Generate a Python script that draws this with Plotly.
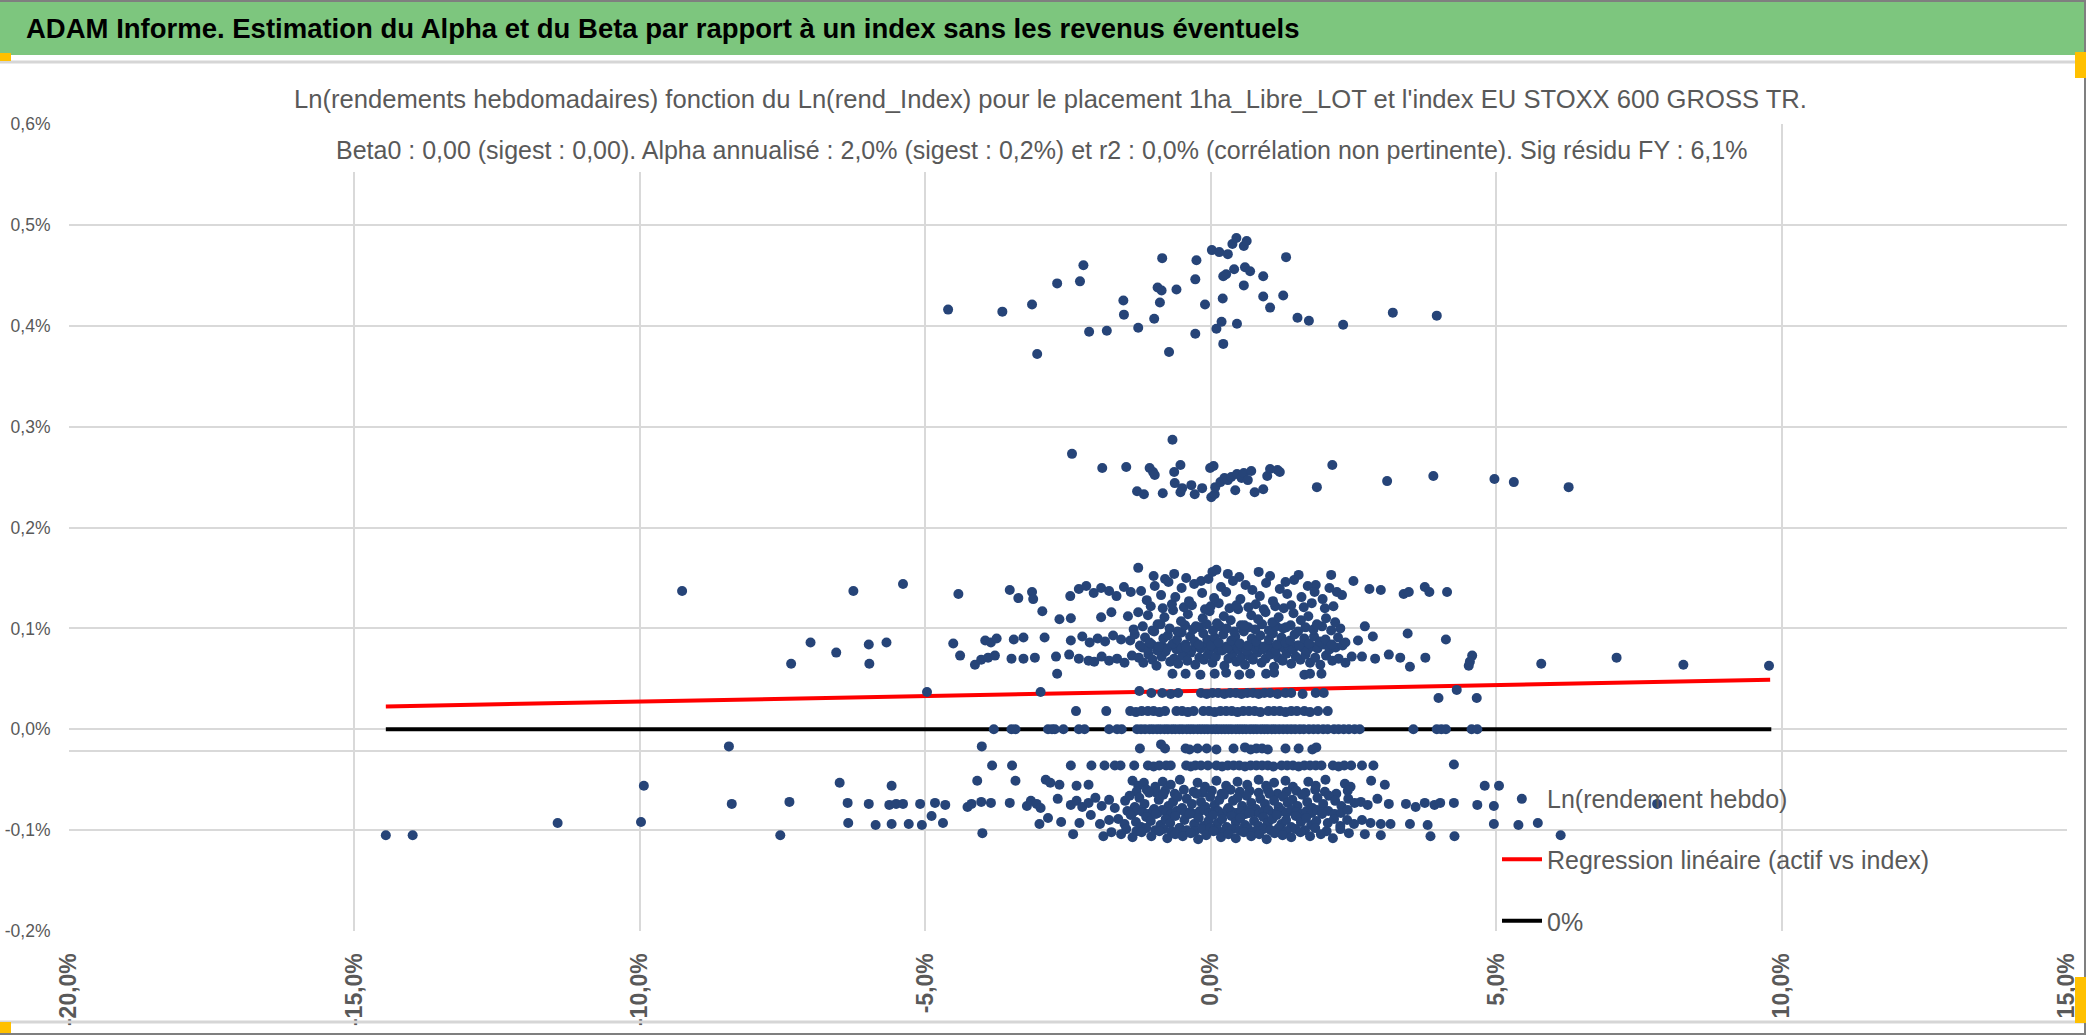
import plotly.graph_objects as go

# Ln(rendement hebdo) de l'actif (y, en %) vs Ln(rendement hebdo) de l'index (x, en %)
# bande haute 0,37% - 0,49%
pts_top = [(-4.60, 0.416), (-3.65, 0.414), (-3.13, 0.421), (-3.04, 0.372), (-2.69, 0.442), (-2.23, 0.460),
           (-2.29, 0.444), (-2.13, 0.394), (-1.82, 0.395), (-1.53, 0.425), (-1.52, 0.411), (-1.27, 0.398),
           (-0.99, 0.407), (-0.93, 0.438), (-0.86, 0.435), (-0.89, 0.423), (-0.85, 0.467), (-0.73, 0.374),
           (-0.60, 0.436), (-0.27, 0.446), (-0.25, 0.465), (-0.27, 0.392), (-0.10, 0.421), (0.02, 0.475),
           (0.10, 0.397), (0.15, 0.473), (0.19, 0.404), (0.21, 0.427), (0.22, 0.382), (0.22, 0.449),
           (0.27, 0.451), (0.30, 0.471), (0.41, 0.456), (0.38, 0.481), (0.45, 0.487), (0.46, 0.402),
           (0.58, 0.440), (0.60, 0.458), (0.58, 0.479), (0.63, 0.484), (0.69, 0.454), (0.92, 0.449),
           (0.92, 0.429), (1.04, 0.418), (1.27, 0.430), (1.32, 0.468), (1.52, 0.408), (1.72, 0.405),
           (2.32, 0.401), (3.19, 0.413), (3.96, 0.410)]

# bande 0,23% - 0,29%
pts_mid = [(-2.43, 0.273), (-1.90, 0.259), (-1.48, 0.260), (-1.07, 0.259), (-1.01, 0.255), (-0.98, 0.252),
           (-0.67, 0.287), (-0.64, 0.255), (-0.53, 0.262), (-0.63, 0.244), (-1.29, 0.236), (-1.17, 0.233),
           (-0.84, 0.234), (-0.53, 0.235), (-0.50, 0.239), (-0.34, 0.242), (-0.28, 0.233), (-0.15, 0.239),
           (-0.01, 0.259), (0.05, 0.261), (0.01, 0.230), (0.07, 0.233), (0.08, 0.240), (0.17, 0.245),
           (0.24, 0.249), (0.30, 0.247), (0.36, 0.250), (0.43, 0.237), (0.46, 0.253), (0.54, 0.249),
           (0.58, 0.254), (0.65, 0.247), (0.71, 0.256), (0.77, 0.235), (0.92, 0.238), (0.99, 0.251),
           (1.04, 0.258), (1.17, 0.257), (1.21, 0.255), (1.86, 0.240), (2.13, 0.262), (3.09, 0.246),
           (3.90, 0.251), (4.97, 0.248), (5.31, 0.245), (6.27, 0.240)]

# bande 0,06% - 0,16% (coeur)
row07_x = [-1.26, -1.18, -1.09, -1.02, -0.95, -0.86, -0.79, -0.71, -0.64, -0.57, -0.49, -0.41, -0.35, -0.27, -0.20, -0.12,
           -0.05, 0.03, 0.09, 0.16, 0.24, 0.31, 0.38, 0.45, 0.53, 0.60, 0.67, 0.74, 0.82, 0.89, 0.96, 1.04,
           1.11, 1.18, 1.26, 1.33, 1.41, 1.49, 1.57, 1.66, 1.74, 1.83, 1.92, 2.02, 2.13, 2.24, 2.36, 2.47]
row07_y = [0.071, 0.066, 0.074, 0.069, 0.063, 0.072, 0.077, 0.067, 0.070, 0.065, 0.073, 0.068, 0.076, 0.064, 0.071, 0.069,
           0.074, 0.066, 0.072, 0.078, 0.063, 0.070, 0.075, 0.067, 0.071, 0.064, 0.073, 0.069, 0.076, 0.066, 0.070, 0.074,
           0.062, 0.071, 0.068, 0.075, 0.065, 0.072, 0.069, 0.074, 0.066, 0.071, 0.064, 0.073, 0.068, 0.070, 0.066, 0.072]
row08_x = [-1.20, -1.11, -1.03, -0.94, -0.85, -0.77, -0.68, -0.60, -0.52, -0.44, -0.34, -0.26, -0.18, -0.09, -0.02,
           0.06, 0.13, 0.20, 0.28, 0.35, 0.42, 0.49, 0.56, 0.63, 0.70, 0.78, 0.85, 0.92, 0.99, 1.07,
           1.14, 1.21, 1.29, 1.36, 1.44, 1.52, 1.61, 1.69, 1.78, 1.87, 1.97, 2.08, 2.19, 2.31]
row08_y = [0.081, 0.079, 0.084, 0.078, 0.082, 0.080, 0.083, 0.079, 0.081, 0.084, 0.078, 0.082, 0.080, 0.083, 0.079,
           0.081, 0.084, 0.078, 0.082, 0.080, 0.083, 0.079, 0.081, 0.078, 0.084, 0.080, 0.082, 0.079, 0.083, 0.081,
           0.078, 0.084, 0.080, 0.082, 0.079, 0.083, 0.081, 0.078, 0.082, 0.080, 0.084, 0.079, 0.081, 0.083]
row09_x = [-1.41, -1.33, -1.24, -1.15, -1.07, -0.99, -0.91, -0.83, -0.75, -0.66, -0.59, -0.51, -0.43, -0.36, -0.28, -0.21,
           -0.13, -0.06, 0.01, 0.07, 0.14, 0.22, 0.29, 0.36, 0.43, 0.51, 0.58, 0.65, 0.72, 0.80, 0.87, 0.94,
           1.02, 1.09, 1.16, 1.24, 1.31, 1.39, 1.47, 1.55, 1.64, 1.72, 1.81, 1.91, 2.01, 2.12, 2.23, 2.36]
row09_y = [0.088, 0.094, 0.083, 0.091, 0.086, 0.097, 0.082, 0.090, 0.093, 0.085, 0.089, 0.096, 0.081, 0.092, 0.087, 0.084,
           0.095, 0.089, 0.083, 0.091, 0.086, 0.094, 0.080, 0.088, 0.092, 0.085, 0.097, 0.083, 0.090, 0.087, 0.093, 0.082,
           0.089, 0.095, 0.084, 0.091, 0.086, 0.088, 0.094, 0.083, 0.090, 0.085, 0.092, 0.087, 0.089, 0.084, 0.091, 0.086]
row10_x = [-1.35, -1.19, -1.02, -0.88, -0.72, -0.58, -0.45, -0.31, -0.19, -0.07, 0.04, 0.16, 0.28, 0.41,
           0.53, 0.66, 0.78, 0.90, 1.02, 1.15, 1.27, 1.40, 1.53, 1.66, 1.80, 1.95, 2.11, 2.27]
row10_y = [0.099, 0.102, 0.098, 0.104, 0.100, 0.097, 0.103, 0.099, 0.101, 0.104, 0.098, 0.102, 0.100, 0.097,
           0.103, 0.101, 0.099, 0.104, 0.098, 0.102, 0.100, 0.103, 0.097, 0.101, 0.099, 0.102, 0.098, 0.100]
row11_x = [-1.27, -1.10, -0.93, -0.81, -0.66, -0.52, -0.40, -0.26, -0.14, -0.02, 0.11, 0.23, 0.35, 0.48,
           0.59, 0.71, 0.83, 0.96, 1.08, 1.19, 1.32, 1.45, 1.58, 1.71, 1.86, 2.02, 2.18]
row11_y = [0.116, 0.113, 0.104, 0.111, 0.118, 0.107, 0.114, 0.102, 0.110, 0.117, 0.105, 0.112, 0.108, 0.119,
           0.103, 0.113, 0.109, 0.116, 0.106, 0.111, 0.101, 0.115, 0.108, 0.112, 0.104, 0.110, 0.106]
row12_x = [-1.05, -0.84, -0.68, -0.47, -0.33, -0.10, 0.00, 0.14, 0.33, 0.45,
           0.66, 0.79, 0.93, 1.13, 1.28, 1.41, 1.63, 1.77, 2.00, 2.15]
row12_y = [0.122, 0.120, 0.124, 0.121, 0.123, 0.119, 0.122, 0.125, 0.120, 0.123,
           0.121, 0.124, 0.119, 0.122, 0.120, 0.123, 0.121, 0.125, 0.120, 0.122]
row13_x = [-1.22, -1.12, -0.98, -0.87, -0.74, -0.62, -0.51, -0.38, -0.29, -0.15, -0.04, 0.06, 0.18, 0.27, 0.39,
           0.52, 0.61, 0.73, 0.86, 0.97, 1.09, 1.21, 1.34, 1.46, 1.59, 1.70, 1.82, 1.96, 2.08, 2.30]
row13_y = [0.137, 0.128, 0.142, 0.133, 0.146, 0.131, 0.140, 0.127, 0.144, 0.135, 0.149, 0.130, 0.141, 0.136, 0.147,
           0.129, 0.143, 0.138, 0.132, 0.145, 0.127, 0.139, 0.134, 0.148, 0.131, 0.142, 0.136, 0.129, 0.140, 0.133]

# bande 0,06% - 0,16% (ailes)
pts_up_side = [(-6.56, 0.076), (-5.98, 0.065), (-7.35, 0.065), (-4.39, 0.073), (-4.13, 0.064), (-4.02, 0.069),
               (-3.90, 0.071), (-3.78, 0.073), (-3.49, 0.070), (-3.28, 0.070), (-3.08, 0.071), (-2.71, 0.072),
               (-2.48, 0.074), (-2.31, 0.070), (-2.14, 0.068), (-2.04, 0.067), (-1.91, 0.072), (-1.78, 0.068),
               (-1.64, 0.070), (-1.51, 0.066), (-1.38, 0.073),
               (-7.01, 0.086), (-5.99, 0.084), (-5.68, 0.086), (-4.51, 0.085), (-3.95, 0.088), (-3.85, 0.086),
               (-3.75, 0.090), (-3.45, 0.089), (-3.28, 0.091), (-2.91, 0.091), (-2.45, 0.088), (-2.25, 0.092),
               (-2.12, 0.086), (-1.98, 0.090), (-1.85, 0.087), (-1.71, 0.093), (-1.57, 0.089),
               (-2.95, 0.117), (-2.65, 0.109), (-2.45, 0.110), (-1.92, 0.111), (-1.74, 0.116), (-1.45, 0.112),
               (-9.26, 0.137), (-6.26, 0.137), (-5.39, 0.144), (-4.42, 0.134), (-3.52, 0.138), (-3.37, 0.130),
               (-3.13, 0.136), (-3.11, 0.129), (-2.46, 0.132), (-2.31, 0.139), (-2.18, 0.142), (-2.05, 0.135),
               (-1.92, 0.140), (-1.78, 0.137), (-1.65, 0.132), (-1.52, 0.141), (-1.40, 0.136), (-1.27, 0.160),
               (-1.00, 0.152), (-0.80, 0.149), (-0.64, 0.154), (-0.43, 0.150), (-0.17, 0.147), (0.03, 0.156),
               (0.10, 0.158), (0.30, 0.154), (0.50, 0.151), (0.84, 0.156), (1.04, 0.152), (1.31, 0.146),
               (1.54, 0.153), (1.84, 0.143), (2.11, 0.153), (2.21, 0.136), (2.50, 0.147), (2.78, 0.139),
               (2.98, 0.138), (3.38, 0.134), (3.47, 0.136), (3.75, 0.141), (3.83, 0.136), (4.14, 0.136),
               (2.65, 0.072), (2.88, 0.070), (3.12, 0.074), (3.32, 0.071), (3.49, 0.062), (3.76, 0.071),
               (4.52, 0.063), (4.58, 0.073), (4.54, 0.067), (5.79, 0.065), (7.11, 0.071), (8.28, 0.064),
               (9.78, 0.063), (2.58, 0.088), (2.84, 0.092), (3.45, 0.095), (4.12, 0.089), (2.70, 0.102),
               (-2.69, 0.055), (-0.67, 0.055), (-0.44, 0.055), (-0.18, 0.054), (0.07, 0.055), (0.27, 0.056),
               (0.50, 0.054), (0.69, 0.055), (0.97, 0.055), (1.11, 0.056), (1.64, 0.054), (1.74, 0.055),
               (1.94, 0.055)]

# lignes proches de zero
pts_r036 = [(-4.97, 0.037), (-2.98, 0.037), (-1.25, 0.038), (-1.04, 0.036), (-0.85, 0.036), (-0.70, 0.035),
            (-0.57, 0.036), (-0.17, 0.036), (-0.07, 0.035), (0.03, 0.036), (0.13, 0.036), (0.24, 0.035),
            (0.34, 0.036), (0.44, 0.036), (0.54, 0.035), (0.64, 0.036), (0.74, 0.036), (0.84, 0.035),
            (0.94, 0.036), (1.04, 0.036), (1.17, 0.035), (1.31, 0.036), (1.41, 0.036), (1.61, 0.035),
            (1.84, 0.036), (1.98, 0.036), (3.99, 0.031), (4.31, 0.039), (4.66, 0.031)]
pts_r018 = [(-2.36, 0.018), (-1.83, 0.018), (-1.41, 0.018), (-1.31, 0.017), (-1.21, 0.018), (-1.10, 0.018),
            (-1.00, 0.018), (-0.90, 0.017), (-0.80, 0.018), (-0.60, 0.018), (-0.50, 0.018), (-0.40, 0.017),
            (-0.30, 0.018), (-0.13, 0.018), (-0.03, 0.018), (0.07, 0.017), (0.17, 0.018), (0.27, 0.018),
            (0.37, 0.018), (0.47, 0.017), (0.57, 0.018), (0.67, 0.018), (0.77, 0.018), (0.87, 0.017),
            (1.01, 0.018), (1.11, 0.018), (1.21, 0.018), (1.31, 0.017), (1.41, 0.018), (1.51, 0.018),
            (1.64, 0.018), (1.74, 0.017), (1.88, 0.018), (2.05, 0.018)]
pts_r000 = [(-3.80, 0.0), (-3.49, 0.0), (-3.42, 0.0), (-2.85, 0.0), (-2.78, 0.0), (-2.73, 0.0), (-2.58, 0.0),
            (-2.31, 0.0), (-2.21, 0.0), (-1.78, 0.0), (-1.64, 0.0), (-1.56, 0.0), (-1.29, 0.0), (-1.22, 0.0),
            (-1.15, 0.0), (-1.07, 0.0), (-1.01, 0.0), (-0.94, 0.0), (-0.88, 0.0), (-0.81, 0.0), (-0.75, 0.0),
            (-0.68, 0.0), (-0.62, 0.0), (-0.55, 0.0), (-0.49, 0.0), (-0.42, 0.0), (-0.36, 0.0), (-0.30, 0.0),
            (-0.23, 0.0), (-0.17, 0.0), (-0.11, 0.0), (-0.05, 0.0), (0.02, 0.0), (0.08, 0.0), (0.13, 0.0),
            (0.19, 0.0), (0.25, 0.0), (0.31, 0.0), (0.37, 0.0), (0.44, 0.0), (0.50, 0.0), (0.56, 0.0),
            (0.62, 0.0), (0.69, 0.0), (0.75, 0.0), (0.81, 0.0), (0.88, 0.0), (0.94, 0.0), (1.00, 0.0),
            (1.07, 0.0), (1.13, 0.0), (1.20, 0.0), (1.27, 0.0), (1.34, 0.0), (1.41, 0.0), (1.48, 0.0),
            (1.56, 0.0), (1.63, 0.0), (1.72, 0.0), (1.80, 0.0), (1.88, 0.0), (1.97, 0.0), (2.05, 0.0),
            (2.16, 0.0), (2.24, 0.0), (2.33, 0.0), (2.42, 0.0), (2.52, 0.0), (2.61, 0.0), (3.55, 0.0),
            (3.96, 0.0), (4.04, 0.0), (4.12, 0.0), (4.57, 0.0), (4.67, 0.0)]
pts_rm018 = [(-8.44, -0.017), (-4.01, -0.017), (-1.24, -0.019), (-0.87, -0.015), (-0.80, -0.019), (-0.44, -0.019),
             (-0.37, -0.020), (-0.23, -0.019), (-0.07, -0.019), (0.10, -0.020), (0.40, -0.019), (0.60, -0.018),
             (0.70, -0.020), (0.80, -0.019), (0.90, -0.019), (1.00, -0.020), (1.31, -0.019), (1.54, -0.019),
             (1.78, -0.020), (1.85, -0.018)]
pts_rm036 = [(-3.83, -0.036), (-3.48, -0.036), (-2.45, -0.036), (-2.09, -0.036), (-1.86, -0.036), (-1.68, -0.036),
             (-1.58, -0.036), (-1.34, -0.036), (-1.10, -0.036), (-1.00, -0.037), (-0.90, -0.036), (-0.78, -0.036),
             (-0.70, -0.036), (-0.43, -0.036), (-0.35, -0.037), (-0.27, -0.036), (-0.17, -0.036), (-0.05, -0.036),
             (0.10, -0.036), (0.20, -0.037), (0.30, -0.036), (0.40, -0.036), (0.50, -0.036), (0.60, -0.037),
             (0.70, -0.036), (0.80, -0.036), (0.90, -0.036), (1.00, -0.036), (1.10, -0.037), (1.24, -0.036),
             (1.34, -0.036), (1.44, -0.036), (1.54, -0.037), (1.64, -0.036), (1.74, -0.036), (1.84, -0.036),
             (1.94, -0.036), (2.14, -0.036), (2.24, -0.037), (2.34, -0.036), (2.46, -0.036), (2.65, -0.036),
             (2.85, -0.036), (4.26, -0.035)]
pts_rm054 = [(-9.93, -0.056), (-6.50, -0.053), (-5.59, -0.056), (-4.09, -0.051), (-3.42, -0.051), (-2.89, -0.050),
             (-2.81, -0.053), (-2.65, -0.055), (-2.35, -0.056), (-2.14, -0.055), (-1.37, -0.051), (-1.27, -0.056),
             (-1.17, -0.053), (-0.97, -0.057), (-0.84, -0.052), (-0.70, -0.055), (-0.54, -0.050), (-0.23, -0.053),
             (-0.10, -0.057), (0.10, -0.051), (0.27, -0.056), (0.47, -0.052), (0.64, -0.055), (0.84, -0.050),
             (0.97, -0.056), (1.11, -0.053), (1.31, -0.051), (1.44, -0.057), (1.71, -0.052), (1.84, -0.056),
             (2.01, -0.050), (2.35, -0.054), (2.45, -0.057), (2.81, -0.051), (3.05, -0.055), (4.80, -0.056),
             (5.05, -0.056)]

# bande -0,06% - -0,11% (coeur)
lowD_x = [-1.30, -1.12, -0.95, -0.80, -0.63, -0.47, -0.30, -0.14, 0.02, 0.19, 0.35, 0.51,
          0.68, 0.84, 1.00, 1.17, 1.33, 1.50, 1.66, 1.83, 2.00, 2.20, 2.40]
lowD_y = [-0.062, -0.060, -0.063, -0.061, -0.064, -0.060, -0.062, -0.063, -0.061, -0.064, -0.060, -0.062,
          -0.061, -0.063, -0.060, -0.064, -0.062, -0.061, -0.063, -0.060, -0.062, -0.064, -0.061]
lowA_x = [-1.50, -1.42, -1.33, -1.25, -1.16, -1.08, -0.99, -0.91, -0.83, -0.74, -0.66, -0.58, -0.50, -0.42, -0.33, -0.25,
          -0.17, -0.09, -0.01, 0.07, 0.15, 0.23, 0.31, 0.39, 0.47, 0.55, 0.63, 0.71, 0.79, 0.87, 0.95, 1.03,
          1.11, 1.19, 1.27, 1.35, 1.43, 1.52, 1.60, 1.69, 1.78, 1.87, 1.97, 2.07, 2.18, 2.29, 2.41, 2.52]
lowA_y = [-0.071, -0.066, -0.077, -0.068, -0.074, -0.063, -0.079, -0.070, -0.065, -0.076, -0.072, -0.067, -0.078, -0.069,
          -0.074, -0.064, -0.072, -0.077, -0.067, -0.075, -0.070, -0.065, -0.078, -0.071, -0.068, -0.076, -0.066, -0.073,
          -0.079, -0.069, -0.074, -0.064, -0.071, -0.077, -0.067, -0.073, -0.070, -0.076, -0.065, -0.072, -0.078, -0.068,
          -0.074, -0.066, -0.071, -0.076, -0.069, -0.073]
lowE_x = [-1.46, -1.37, -1.28, -1.19, -1.10, -1.01, -0.93, -0.85, -0.77, -0.69, -0.60, -0.52, -0.44, -0.36, -0.27, -0.19,
          -0.11, -0.03, 0.05, 0.13, 0.21, 0.29, 0.37, 0.45, 0.53, 0.61, 0.69, 0.77, 0.85, 0.93, 1.01, 1.09,
          1.17, 1.25, 1.33, 1.42, 1.50, 1.59, 1.68, 1.77, 1.86, 1.96, 2.06, 2.17, 2.28, 2.40]
lowE_y = [-0.081, -0.083, -0.080, -0.082, -0.084, -0.081, -0.083, -0.080, -0.082, -0.084, -0.081, -0.080, -0.083, -0.082,
          -0.084, -0.081, -0.080, -0.083, -0.082, -0.081, -0.084, -0.080, -0.082, -0.083, -0.081, -0.084, -0.080, -0.082,
          -0.083, -0.081, -0.080, -0.084, -0.082, -0.081, -0.083, -0.080, -0.082, -0.084, -0.081, -0.083, -0.080, -0.082,
          -0.081, -0.084, -0.083, -0.080]
lowB_x = [-1.62, -1.51, -1.40, -1.31, -1.22, -1.13, -1.05, -0.96, -0.88, -0.79, -0.71, -0.62, -0.54, -0.46, -0.37, -0.29,
          -0.21, -0.13, -0.04, 0.04, 0.12, 0.20, 0.28, 0.36, 0.44, 0.52, 0.60, 0.68, 0.76, 0.84, 0.92, 1.00,
          1.08, 1.16, 1.24, 1.32, 1.41, 1.49, 1.58, 1.67, 1.76, 1.85, 1.95, 2.05, 2.16, 2.27, 2.39, 2.51]
lowB_y = [-0.089, -0.094, -0.085, -0.092, -0.097, -0.087, -0.091, -0.084, -0.095, -0.089, -0.093, -0.086, -0.098, -0.090,
          -0.084, -0.094, -0.088, -0.096, -0.091, -0.085, -0.093, -0.089, -0.097, -0.086, -0.092, -0.088, -0.095, -0.083,
          -0.091, -0.096, -0.087, -0.093, -0.089, -0.085, -0.094, -0.090, -0.097, -0.086, -0.092, -0.088, -0.095, -0.091,
          -0.084, -0.093, -0.089, -0.096, -0.090, -0.094]
lowF_x = [-1.48, -1.30, -1.13, -0.97, -0.83, -0.69, -0.55, -0.42, -0.28, -0.15, -0.01, 0.12, 0.25,
          0.38, 0.51, 0.65, 0.78, 0.92, 1.05, 1.19, 1.33, 1.49, 1.65, 1.83, 2.03, 2.27]
lowF_y = [-0.099, -0.101, -0.098, -0.100, -0.099, -0.101, -0.098, -0.100, -0.101, -0.099, -0.098, -0.100, -0.101,
          -0.099, -0.100, -0.098, -0.101, -0.099, -0.100, -0.098, -0.101, -0.099, -0.100, -0.098, -0.101, -0.099]
lowC_x = [-1.57, -1.37, -1.21, -1.04, -0.90, -0.76, -0.62, -0.49, -0.35, -0.22, -0.08, 0.05, 0.18, 0.31,
          0.44, 0.58, 0.71, 0.85, 0.98, 1.12, 1.26, 1.41, 1.57, 1.74, 1.93, 2.14, 2.42]
lowC_y = [-0.104, -0.107, -0.102, -0.106, -0.101, -0.108, -0.104, -0.106, -0.103, -0.109, -0.105, -0.101, -0.107, -0.104,
          -0.108, -0.102, -0.106, -0.104, -0.109, -0.103, -0.105, -0.107, -0.102, -0.106, -0.104, -0.108, -0.103]

# bande -0,06% - -0,11% (ailes)
pts_low_side = [(-14.45, -0.105), (-13.98, -0.105), (-11.44, -0.093), (-9.98, -0.092), (-8.39, -0.074),
                (-7.54, -0.105), (-7.38, -0.072), (-6.36, -0.073), (-6.35, -0.093), (-5.99, -0.074),
                (-5.87, -0.095), (-5.63, -0.075), (-5.51, -0.074), (-5.59, -0.094), (-5.39, -0.074),
                (-5.09, -0.074), (-4.83, -0.073), (-4.65, -0.075), (-4.26, -0.077), (-4.19, -0.074),
                (-4.02, -0.072), (-3.85, -0.073), (-3.52, -0.073), (-3.22, -0.076), (-3.15, -0.071),
                (-3.05, -0.074), (-2.98, -0.078), (-2.68, -0.069), (-2.45, -0.075), (-2.35, -0.071),
                (-2.25, -0.077), (-2.14, -0.073), (-2.02, -0.068), (-1.91, -0.076), (-1.78, -0.070),
                (-1.68, -0.078), (-5.29, -0.094), (-5.06, -0.095), (-4.89, -0.086), (-4.69, -0.093),
                (-3.00, -0.094), (-2.85, -0.088), (-2.62, -0.092), (-2.30, -0.093), (-2.10, -0.085),
                (-1.94, -0.094), (-1.78, -0.090), (-4.00, -0.103), (-2.41, -0.104), (-1.88, -0.106),
                (-1.74, -0.102), (2.63, -0.072), (2.75, -0.075), (2.92, -0.069), (3.12, -0.074),
                (3.42, -0.074), (3.59, -0.077), (3.75, -0.073), (3.92, -0.075), (4.02, -0.073),
                (4.26, -0.073), (4.67, -0.075), (4.96, -0.076), (5.45, -0.069), (7.82, -0.074),
                (2.65, -0.090), (2.80, -0.093), (2.98, -0.094), (3.15, -0.094), (3.49, -0.094),
                (3.80, -0.095), (4.96, -0.094), (5.39, -0.095), (5.73, -0.093), (2.70, -0.104),
                (2.98, -0.105), (3.85, -0.106), (4.27, -0.106), (6.13, -0.105)]

# droites
reg_x = [-14.45, 9.80]
reg_y = [0.0226, 0.049]
zero_x = [-14.45, 9.82]
zero_y = [0.0, 0.0]
axis_cross_y = -0.0216

x_ticks = [-20, -15, -10, -5, 0, 5, 10, 15]
x_labels = ["-20,0%", "-15,0%", "-10,0%", "-5,0%", "0,0%", "5,0%", "10,0%", "15,0%"]
y_ticks = [-0.2, -0.1, 0.0, 0.1, 0.2, 0.3, 0.4, 0.5, 0.6]
y_labels = ["-0,2%", "-0,1%", "0,0%", "0,1%", "0,2%", "0,3%", "0,4%", "0,5%", "0,6%"]

title_txt = "ADAM Informe. Estimation du Alpha et du Beta par rapport à un index sans les revenus éventuels"
sub1 = "Ln(rendements hebdomadaires) fonction du Ln(rend_Index) pour le placement 1ha_Libre_LOT et l'index EU STOXX 600 GROSS TR."
sub2 = ("Beta0 : 0,00 (sigest : 0,00). Alpha annualisé : 2,0% (sigest : 0,2%) et r2 : 0,0% "
        "(corrélation non pertinente). Sig résidu FY : 6,1%")

# assemblage des points
sx, sy = [], []
for pts in [pts_top, pts_mid, pts_up_side, pts_r036, pts_r018, pts_r000, pts_rm018, pts_rm036, pts_rm054, pts_low_side]:
    for a, b in pts:
        sx.append(a)
        sy.append(b)
for xs, ys in [(row07_x, row07_y), (row08_x, row08_y), (row09_x, row09_y), (row10_x, row10_y),
               (row11_x, row11_y), (row12_x, row12_y), (row13_x, row13_y),
               (lowD_x, lowD_y), (lowA_x, lowA_y), (lowE_x, lowE_y), (lowB_x, lowB_y),
               (lowF_x, lowF_y), (lowC_x, lowC_y)]:
    sx += xs
    sy += ys

W, H = 2086, 1035
L, R, T, B = 69, 2067, 124, 931

def px(xp):
    return (xp - L) / (R - L)

def py(yp):
    return (B - yp) / (B - T)

FONT = "Liberation Sans, Arial, sans-serif"
GREY = "#595959"

fig = go.Figure()
# entree de legende sans symbole (comme dans Excel)
fig.add_trace(go.Scatter(x=[None], y=[None], mode="lines", name="Ln(rendement hebdo)",
                         line=dict(color="rgba(0,0,0,0)", width=4), legendgroup="a"))
fig.add_trace(go.Scatter(x=reg_x, y=reg_y, mode="lines", name="Regression linéaire (actif vs index)",
                         line=dict(color="#ff0000", width=4), legendgroup="b"))
fig.add_trace(go.Scatter(x=zero_x, y=zero_y, mode="lines", name="0%",
                         line=dict(color="#000000", width=4), legendgroup="c"))
fig.add_trace(go.Scatter(x=sx, y=sy, mode="markers", showlegend=False,
                         marker=dict(size=10, color="#264478")))

shapes = [
    # bandeau vert
    dict(type="rect", xref="paper", yref="paper", x0=px(0), x1=px(W), y0=py(55), y1=py(1),
         fillcolor="#7dc67e", line=dict(width=0), layer="below"),
    dict(type="line", xref="paper", yref="paper", x0=px(0), x1=px(W), y0=py(1), y1=py(1),
         line=dict(color="#7f7f7f", width=2)),
    dict(type="line", xref="paper", yref="paper", x0=px(0), x1=px(W), y0=py(62), y1=py(62),
         line=dict(color="#d6d6d6", width=3)),
    dict(type="line", xref="paper", yref="paper", x0=px(0), x1=px(W), y0=py(1022), y1=py(1022),
         line=dict(color="#d6d6d6", width=3)),
    dict(type="line", xref="paper", yref="paper", x0=px(0), x1=px(W), y0=py(1034), y1=py(1034),
         line=dict(color="#7f7f7f", width=2)),
    dict(type="line", xref="paper", yref="paper", x0=px(2085), x1=px(2085), y0=py(0), y1=py(H),
         line=dict(color="#7f7f7f", width=2)),
    # poignees de selection
    dict(type="rect", xref="paper", yref="paper", x0=px(0), x1=px(11), y0=py(61), y1=py(53),
         fillcolor="#ffc000", line=dict(width=0)),
    dict(type="rect", xref="paper", yref="paper", x0=px(2075), x1=px(W), y0=py(78), y1=py(52),
         fillcolor="#ffc000", line=dict(width=0)),
    dict(type="rect", xref="paper", yref="paper", x0=px(0), x1=px(11), y0=py(1033), y1=py(1022),
         fillcolor="#ffc000", line=dict(width=0)),
    dict(type="rect", xref="paper", yref="paper", x0=px(2075), x1=px(W), y0=py(1023), y1=py(977),
         fillcolor="#ffc000", line=dict(width=0)),
    # ligne de l'axe horizontal
    dict(type="line", xref="paper", yref="y", x0=0, x1=1, y0=axis_cross_y, y1=axis_cross_y,
         line=dict(color="#d9d9d9", width=2), layer="below"),
    # cadre blanc du titre du graphique
    dict(type="rect", xref="paper", yref="paper", x0=px(307), x1=px(1778), y0=py(172), y1=py(78),
         fillcolor="#ffffff", line=dict(width=0), layer="above"),
]

annotations = [
    dict(text=title_txt, xref="paper", yref="paper", x=px(24), y=py(28), xanchor="left", yanchor="middle",
         showarrow=False, font=dict(family=FONT, size=27.5, color="#000000", weight="bold")),
    dict(text=sub1, xref="paper", yref="paper", x=px(1050), y=py(99), xanchor="center",
         yanchor="middle", showarrow=False, font=dict(family=FONT, size=25.6, color=GREY)),
    dict(text=sub2, xref="paper", yref="paper", x=px(1041), y=py(150), xanchor="center",
         yanchor="middle", showarrow=False, font=dict(family=FONT, size=25.0, color=GREY)),
]

fig.update_layout(
    width=W, height=H,
    margin=dict(l=L, r=W - R, t=T, b=H - B, autoexpand=False),
    paper_bgcolor="#ffffff", plot_bgcolor="#ffffff",
    shapes=shapes, annotations=annotations,
    legend=dict(x=px(1497), y=py(775), xanchor="left", yanchor="top", bgcolor="rgba(0,0,0,0)",
                font=dict(family=FONT, size=25, color=GREY), traceorder="grouped", tracegroupgap=26,
                itemwidth=40),
    xaxis=dict(range=[-20, 15], tickvals=x_ticks, ticktext=x_labels, tickangle=-90, automargin=False,
               showgrid=True, gridcolor="#d9d9d9", gridwidth=2, zeroline=False, showline=False,
               ticks="outside", ticklen=12, tickcolor="rgba(0,0,0,0)",
               tickfont=dict(family=FONT, size=23, color=GREY, weight="bold")),
    yaxis=dict(range=[-0.2, 0.6], tickvals=y_ticks, ticktext=y_labels, automargin=False,
               showgrid=True, gridcolor="#d9d9d9", gridwidth=2, zeroline=False, showline=False,
               ticks="outside", ticklen=14, tickcolor="rgba(0,0,0,0)",
               tickfont=dict(family=FONT, size=17.5, color=GREY)),
)

fig.write_html("out.html", config={"displayModeBar": False},
               post_script="document.body.style.margin='0';")
